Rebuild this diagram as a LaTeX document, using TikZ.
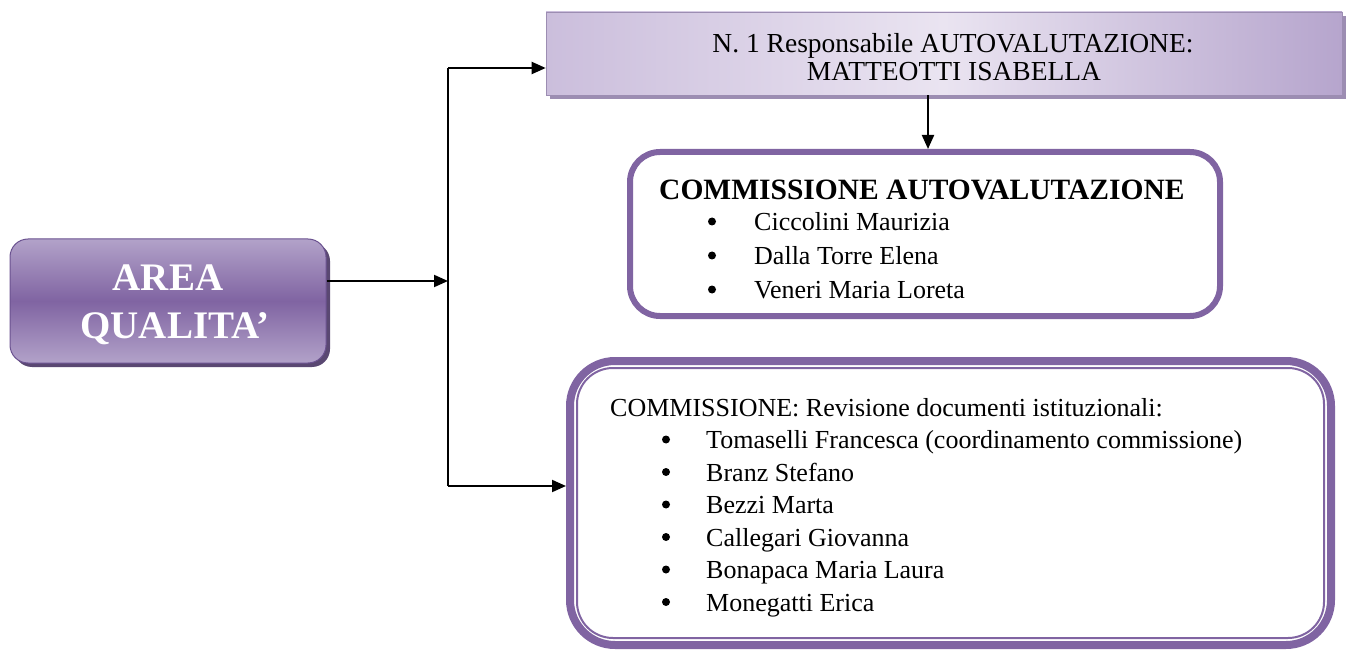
\documentclass[tikz,border=0pt]{standalone}
\usepackage{fontspec}
\setmainfont{Liberation Serif}
\usetikzlibrary{arrows.meta}
\definecolor{accent}{HTML}{8064A2}
\definecolor{accentdark}{HTML}{6B5290}
\definecolor{arealight}{HTML}{B2A2C9}
\definecolor{areashadow}{HTML}{5A4872}
\definecolor{resplight}{HTML}{EAE4F1}
\definecolor{respleft}{HTML}{CBBEDC}
\definecolor{respright}{HTML}{B6A5CD}
\definecolor{respshadow}{HTML}{9C8DB2}
\begin{document}
\begin{tikzpicture}[x=1pt,y=-1pt,
  conn/.style={line width=2pt,-{Triangle[length=14pt,width=12pt]}},
  plain/.style={line width=2pt},
  txt/.style={inner sep=0pt,anchor=base west,font=\fontsize{26}{32.5}\selectfont},
  bul/.style={circle,fill=black,inner sep=0pt,minimum size=8pt},
  ctxt/.style={inner sep=0pt,anchor=base,font=\fontsize{27.5}{28}\selectfont},
  areatxt/.style={inner sep=0pt,anchor=base,text=white,font=\fontsize{39}{48}\selectfont\bfseries},
  areabox/.style={draw=accentdark,line width=1pt,rounded corners=18pt,
    top color=arealight,bottom color=arealight,middle color=accent,
    minimum width=316pt,minimum height=124pt,inner sep=0pt},
  respbox/.style={draw=respshadow,line width=0.6pt,
    left color=respleft,right color=respright,middle color=resplight,
    minimum width=796pt,minimum height=83pt,inner sep=0pt},
  commbox/.style={draw=accent,line width=6pt,fill=white,rounded corners=30pt,
    minimum width=590pt,minimum height=164pt,inner sep=0pt},
  revbox/.style={draw=accent,line width=8pt,fill=white,rounded corners=45pt,
    minimum width=761pt,minimum height=284pt,inner sep=0pt}
]
\useasboundingbox (0,0) rectangle (1351,652);

% shadows
\fill[areashadow,rounded corners=18pt] (14,243) rectangle (330,367);
\fill[respshadow] (550,16) rectangle (1346,99);

% boxes
\node[areabox] (area) at (168,301) {};
\node[respbox] (resp) at (944,53.5) {};
\node[commbox] (comm) at (925,234) {};
\node[revbox] (rev) at (950.5,503) {};
\draw[accent,line width=2pt,rounded corners=36pt]
  ([shift={(11,11)}]rev.north west) rectangle ([shift={(-11,-11)}]rev.south east);

% texts
\node[areatxt] (areaA) at (168,290) {AREA};
\node[areatxt] (areaB) at (175,338) {QUALITA’};

\node[ctxt] (respA) at (953,52.5) {N. 1 Responsabile AUTOVALUTAZIONE:};
\node[ctxt] (respB) at (954,80.5) {MATTEOTTI ISABELLA};

\node[txt,font=\fontsize{29.5}{34}\selectfont\bfseries] (commT) at (659,200) {COMMISSIONE AUTOVALUTAZIONE};
\foreach \n/\y/\t in {1/230.5/Ciccolini Maurizia,2/264.5/Dalla Torre Elena,3/298.5/Veneri Maria Loreta}{
  \node[bul] (cb\n) at (712,\y-9) {};
  \node[txt] (ct\n) at (754,\y) {\t};
}

\node[txt] (revT) at (610,416) {COMMISSIONE: Revisione documenti istituzionali:};
\foreach \n/\y/\t in {1/448.5/Tomaselli Francesca (coordinamento commissione),2/481/Branz Stefano,3/513.5/Bezzi Marta,4/546/Callegari Giovanna,5/578.5/Bonapaca Maria Laura,6/611/Monegatti Erica}{
  \node[bul] (rb\n) at (666,\y-9) {};
  \node[txt] (rt\n) at (706,\y) {\t};
}

% connectors
\coordinate (jmid) at (448,281);
\coordinate (jtop) at (448,68);
\coordinate (jbot) at (448,486);
\draw[plain] (jtop) -- (jbot);
\draw[conn] (area.east |- jmid) -- (jmid);
\draw[conn] (jtop) -- (jtop -| resp.west);
\draw[conn] (jbot) -- (jbot -| rev.west);
\draw[conn] (resp.south -| 928,0) -- (comm.north -| 928,0);
\end{tikzpicture}
\end{document}
